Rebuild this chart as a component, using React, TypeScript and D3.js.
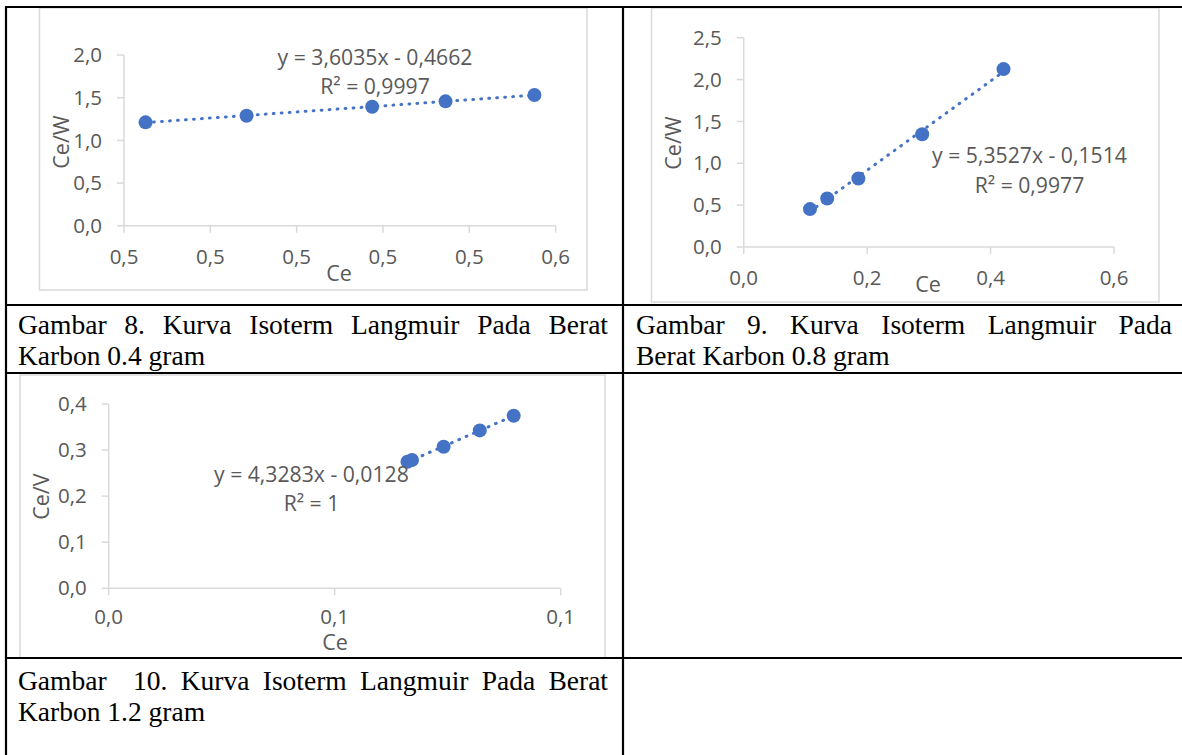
import React from "react";
import * as d3 from "d3";

// ---------- DATA ----------
// Gambar 8 (0.4 g)
const c1Ce = [0.455, 0.4784, 0.5075, 0.5245, 0.5451];
const c1CeW = [1.211, 1.288, 1.394, 1.457, 1.531];
const c1XTicks = [0.45, 0.47, 0.49, 0.51, 0.53, 0.55];
const c1XLabels = ["0,5", "0,5", "0,5", "0,5", "0,5", "0,6"];
const c1YTicks = [0, 0.5, 1.0, 1.5, 2.0];
const c1YLabels = ["0,0", "0,5", "1,0", "1,5", "2,0"];
const c1Eq = "y = 3,6035x - 0,4662";
const c1R2 = "R² = 0,9997";

// Gambar 9 (0.8 g)
const c2Ce = [0.1074, 0.1353, 0.1858, 0.2892, 0.421];
const c2CeW = [0.453, 0.58, 0.819, 1.347, 2.125];
const c2XTicks = [0, 0.2, 0.4, 0.6];
const c2XLabels = ["0,0", "0,2", "0,4", "0,6"];
const c2YTicks = [0, 0.5, 1.0, 1.5, 2.0, 2.5];
const c2YLabels = ["0,0", "0,5", "1,0", "1,5", "2,0", "2,5"];
const c2Eq = "y = 5,3527x - 0,1514";
const c2R2 = "R² = 0,9977";

// Gambar 10 (1.2 g)
const c3Ce = [0.0661, 0.0671, 0.0741, 0.0821, 0.0896];
const c3CeV = [0.2746, 0.2783, 0.3072, 0.3427, 0.3745];
const c3XTicks = [0, 0.05, 0.1];
const c3XLabels = ["0,0", "0,1", "0,1"];
const c3YTicks = [0, 0.1, 0.2, 0.3, 0.4];
const c3YLabels = ["0,0", "0,1", "0,2", "0,3", "0,4"];
const c3Eq = "y = 4,3283x - 0,0128";
const c3R2 = "R² = 1";

const captions = [
  ["Gambar 8. Kurva Isoterm Langmuir Pada Berat", "Karbon 0.4 gram"],
  ["Gambar 9. Kurva Isoterm Langmuir Pada", "Berat Karbon 0.8 gram"],
  ["Gambar  10. Kurva Isoterm Langmuir Pada Berat", "Karbon 1.2 gram"],
];

// ---------- STYLE ----------
const BLUE = "#4472C4";
const AXIS = "#d9d9d9";
const LABEL = "#595959";
const CFONT = "'Open Sans', 'Noto Sans', sans-serif";
const SERIF = "'Liberation Serif', 'Times New Roman', serif";
const TICK_SIZE = 20.5;
const EQ_SIZE = 21.2;
const TITLE_SIZE = 21.5;

function regression(xs: number[], ys: number[]) {
  const mx = d3.mean(xs)!;
  const my = d3.mean(ys)!;
  let num = 0,
    den = 0;
  xs.forEach((x, i) => {
    num += (x - mx) * (ys[i] - my);
    den += (x - mx) * (x - mx);
  });
  const m = num / den;
  return { m, b: my - m * mx };
}

type ChartProps = {
  frame: { x: number; y: number; w: number; h: number };
  plot: { left: number; right: number; top: number; bottom: number };
  xDomain: [number, number];
  yDomain: [number, number];
  xTicks: number[];
  xLabels: string[];
  yTicks: number[];
  yLabels: string[];
  xs: number[];
  ys: number[];
  yTitle: string;
  yTitlePos: [number, number];
  xTitlePos: [number, number];
  xLabelY: number;
  yLabelGap: number;
  eq: string;
  eqPos: [number, number];
  r2: string;
  r2Pos: [number, number];
};

function Chart(p: ChartProps) {
  const x = d3.scaleLinear().domain(p.xDomain).range([p.plot.left, p.plot.right]);
  const y = d3.scaleLinear().domain(p.yDomain).range([p.plot.bottom, p.plot.top]);
  const { m, b } = regression(p.xs, p.ys);
  const [xmin, xmax] = d3.extent(p.xs) as [number, number];
  const line = d3
    .line<number>()
    .x((d) => x(d))
    .y((d) => y(m * d + b));
  return (
    <g>
      <rect
        x={p.frame.x}
        y={p.frame.y}
        width={p.frame.w}
        height={p.frame.h}
        fill="#fff"
        stroke={AXIS}
        strokeWidth={1.5}
      />
      {/* y axis */}
      <line x1={x(p.xDomain[0])} x2={x(p.xDomain[0])} y1={y(p.yDomain[0])} y2={y(p.yDomain[1])} stroke={AXIS} strokeWidth={1.5} />
      {p.yTicks.map((t, i) => (
        <g key={"y" + i}>
          <line x1={x(p.xDomain[0]) - 7} x2={x(p.xDomain[0])} y1={y(t)} y2={y(t)} stroke={AXIS} strokeWidth={1.5} />
          <text
            x={x(p.xDomain[0]) - p.yLabelGap}
            y={y(t)}
            dy="0.35em"
            textAnchor="end"
            fontFamily={CFONT}
            fontSize={TICK_SIZE}
            fill={LABEL}
          >
            {p.yLabels[i]}
          </text>
        </g>
      ))}
      {/* x axis */}
      <line x1={x(p.xDomain[0])} x2={x(p.xDomain[1])} y1={y(p.yDomain[0])} y2={y(p.yDomain[0])} stroke={AXIS} strokeWidth={1.5} />
      {p.xTicks.map((t, i) => (
        <g key={"x" + i}>
          <line x1={x(t)} x2={x(t)} y1={y(p.yDomain[0])} y2={y(p.yDomain[0]) + 7} stroke={AXIS} strokeWidth={1.5} />
          <text x={x(t)} y={p.xLabelY} dy="0.35em" textAnchor="middle" fontFamily={CFONT} fontSize={TICK_SIZE} fill={LABEL}>
            {p.xLabels[i]}
          </text>
        </g>
      ))}
      {/* titles */}
      <text
        transform={`translate(${p.yTitlePos[0]},${p.yTitlePos[1]}) rotate(-90)`}
        dy="0.35em"
        textAnchor="middle"
        fontFamily={CFONT}
        fontSize={TITLE_SIZE}
        fill={LABEL}
      >
        {p.yTitle}
      </text>
      <text x={p.xTitlePos[0]} y={p.xTitlePos[1]} dy="0.35em" textAnchor="middle" fontFamily={CFONT} fontSize={TITLE_SIZE} fill={LABEL}>
        Ce
      </text>
      {/* trendline */}
      <path
        d={line([xmin, xmax]) || ""}
        fill="none"
        stroke={BLUE}
        strokeWidth={3}
        strokeLinecap="round"
        strokeDasharray="0.8 7.2"
      />
      {/* markers */}
      {p.xs.map((v, i) => (
        <circle key={"p" + i} cx={x(v)} cy={y(p.ys[i])} r={7} fill={BLUE} />
      ))}
      {/* equation */}
      <text x={p.eqPos[0]} y={p.eqPos[1]} dy="0.35em" textAnchor="middle" fontFamily={CFONT} fontSize={EQ_SIZE} fill={LABEL}>
        {p.eq}
      </text>
      <text x={p.r2Pos[0]} y={p.r2Pos[1]} dy="0.35em" textAnchor="middle" fontFamily={CFONT} fontSize={EQ_SIZE} fill={LABEL}>
        {p.r2}
      </text>
    </g>
  );
}

const CAP_SIZE = 27.5;
let measureCtx: CanvasRenderingContext2D | null = null;
function measure(s: string) {
  if (!measureCtx) {
    const c = document.createElement("canvas");
    measureCtx = c.getContext("2d");
  }
  if (!measureCtx) return s.length * CAP_SIZE * 0.45;
  measureCtx.font = `${CAP_SIZE}px 'Liberation Serif'`;
  return measureCtx.measureText(s).width;
}

function Justified({ text, x0, x1, y }: { text: string; x0: number; x1: number; y: number }) {
  const words = text.split(" ");
  const widths = words.map(measure);
  const total = d3.sum(widths);
  const gap = (x1 - x0 - total) / (words.length - 1);
  let cx = x0;
  const pos = words.map((w, i) => {
    const p = cx;
    cx += widths[i] + gap;
    return p;
  });
  return (
    <g>
      {words.map((w, i) =>
        w ? (
          <text key={i} x={pos[i]} y={y} fontFamily={SERIF} fontSize={CAP_SIZE} fill="#000">
            {w}
          </text>
        ) : null
      )}
    </g>
  );
}

function Plain({ text, x, y }: { text: string; x: number; y: number }) {
  return (
    <text x={x} y={y} fontFamily={SERIF} fontSize={CAP_SIZE} fill="#000" style={{ whiteSpace: "pre" }}>
      {text}
    </text>
  );
}

export default function App() {
  return (
    <svg width={1182} height={755} style={{ position: "absolute", left: 0, top: 0, background: "#fff" }}>
      <rect x={0} y={0} width={1182} height={755} fill="#fff" />
      <Chart
        frame={{ x: 39.5, y: 8, w: 547.5, h: 282 }}
        plot={{ left: 124, right: 555.6, top: 55, bottom: 225.7 }}
        xDomain={[0.45, 0.55]}
        yDomain={[0, 2]}
        xTicks={c1XTicks}
        xLabels={c1XLabels}
        yTicks={c1YTicks}
        yLabels={c1YLabels}
        xs={c1Ce}
        ys={c1CeW}
        yTitle="Ce/W"
        yTitlePos={[61, 142]}
        xTitlePos={[339, 273]}
        xLabelY={257}
        yLabelGap={22}
        eq={c1Eq}
        eqPos={[375, 58]}
        r2={c1R2}
        r2Pos={[375, 87]}
      />
      <Chart
        frame={{ x: 651.5, y: 8, w: 507.5, h: 294 }}
        plot={{ left: 743.7, right: 1114, top: 37.7, bottom: 247 }}
        xDomain={[0, 0.6]}
        yDomain={[0, 2.5]}
        xTicks={c2XTicks}
        xLabels={c2XLabels}
        yTicks={c2YTicks}
        yLabels={c2YLabels}
        xs={c2Ce}
        ys={c2CeW}
        yTitle="Ce/W"
        yTitlePos={[673, 143]}
        xTitlePos={[928, 284]}
        xLabelY={278}
        yLabelGap={22}
        eq={c2Eq}
        eqPos={[1029.5, 156]}
        r2={c2R2}
        r2Pos={[1029.5, 185.7]}
      />
      <Chart
        frame={{ x: 20, y: 375, w: 585, h: 283 }}
        plot={{ left: 108.7, right: 560.7, top: 404, bottom: 588.3 }}
        xDomain={[0, 0.1]}
        yDomain={[0, 0.4]}
        xTicks={c3XTicks}
        xLabels={c3XLabels}
        yTicks={c3YTicks}
        yLabels={c3YLabels}
        xs={c3Ce}
        ys={c3CeV}
        yTitle="Ce/V"
        yTitlePos={[41.5, 496.7]}
        xTitlePos={[335, 642]}
        xLabelY={617}
        yLabelGap={22}
        eq={c3Eq}
        eqPos={[311.4, 475]}
        r2={c3R2}
        r2Pos={[311.5, 504]}
      />
      {/* table borders */}
      <g stroke="#000" strokeWidth={2.2}>
        <line x1={5} x2={1182} y1={7} y2={7} />
        <line x1={6} x2={6} y1={6} y2={755} />
        <line x1={623} x2={623} y1={6} y2={755} />
        <line x1={5} x2={1182} y1={305} y2={305} />
        <line x1={5} x2={1182} y1={373} y2={373} />
        <line x1={5} x2={1182} y1={658} y2={658} />
      </g>
      {/* captions */}
      <Justified text={captions[0][0]} x0={18} x1={608} y={334} />
      <Plain text={captions[0][1]} x={18} y={365} />
      <Justified text={captions[1][0]} x0={636} x1={1172} y={334} />
      <Plain text={captions[1][1]} x={636} y={365} />
      <Justified text={captions[2][0]} x0={18} x1={608} y={690} />
      <Plain text={captions[2][1]} x={18} y={721} />
    </svg>
  );
}
